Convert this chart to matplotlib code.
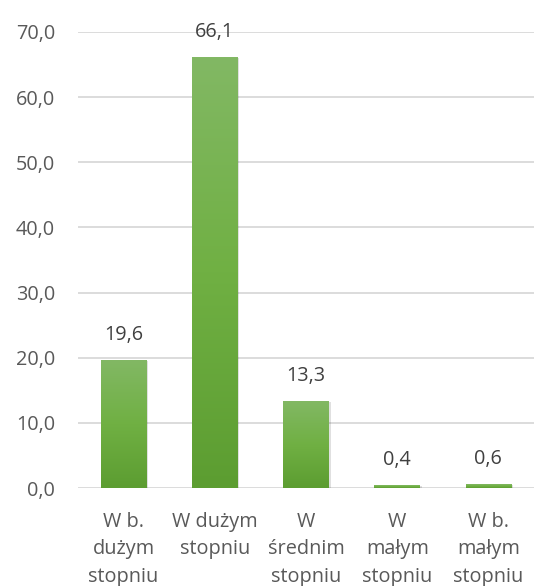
import matplotlib
matplotlib.use("Agg")
import matplotlib.pyplot as plt
import numpy as np
from matplotlib.patches import Rectangle
from matplotlib.colors import LinearSegmentedColormap

categories = ["W b.\ndużym\nstopniu", "W dużym\nstopniu", "W\nśrednim\nstopniu", "W\nmałym\nstopniu", "W b.\nmałym\nstopniu"]
values = [19.6, 66.1, 13.3, 0.4, 0.6]
value_labels = ["19,6", "66,1", "13,3", "0,4", "0,6"]
yticks = [0, 10, 20, 30, 40, 50, 60, 70]
ytick_labels = ["0,0", "10,0", "20,0", "30,0", "40,0", "50,0", "60,0", "70,0"]

plt.rcParams['font.family'] = ['Open Sans', 'DejaVu Sans']
txt = '#595959'

fig = plt.figure(figsize=(5.34, 5.86), dpi=100)
ax = fig.add_axes([0.146, 0.1672, 0.854, 0.7782])
ax.set_xlim(-0.5, len(values) - 0.5)
ax.set_ylim(0, 70)

for y in yticks:
    ax.axhline(y, color='#d9d9d9', lw=1.3, zorder=0)

grad = np.linspace(0, 1, 256).reshape(-1, 1)
cmap = LinearSegmentedColormap.from_list('g', ['#5c9d31', '#70b043', '#82b864'])
w = 0.5
for i, v in enumerate(values):
    sh = Rectangle((i - w / 2 + 0.02, 0), w, v - 0.15, facecolor='#000000', alpha=0.12, edgecolor='none', zorder=1)
    ax.add_patch(sh)
    rect = Rectangle((i - w / 2, 0), w, v, facecolor='none', edgecolor='none', zorder=2)
    ax.add_patch(rect)
    im = ax.imshow(grad, extent=(i - w / 2, i + w / 2, 0, v), origin='lower', cmap=cmap,
                   aspect='auto', zorder=2, interpolation='bilinear')
    im.set_clip_path(rect)
    ax.annotate(value_labels[i], (i, v), xytext=(0, 11), textcoords='offset points',
                ha='center', va='bottom', fontsize=14.3, color='#404040')

ax.set_xlim(-0.5, len(values) - 0.5)
ax.set_ylim(0, 70)
ax.set_aspect('auto')
ax.set_yticks(yticks)
ax.set_yticklabels(ytick_labels, fontsize=14.3, color=txt)
ax.set_xticks(range(len(values)))
ax.set_xticklabels(categories, fontsize=14.3, color=txt, linespacing=1.5)
ax.tick_params(axis='both', length=0)
ax.tick_params(axis='y', pad=16.5)
ax.tick_params(axis='x', pad=17)
for s in ax.spines.values():
    s.set_visible(False)

fig.savefig('out.png', dpi=100)
